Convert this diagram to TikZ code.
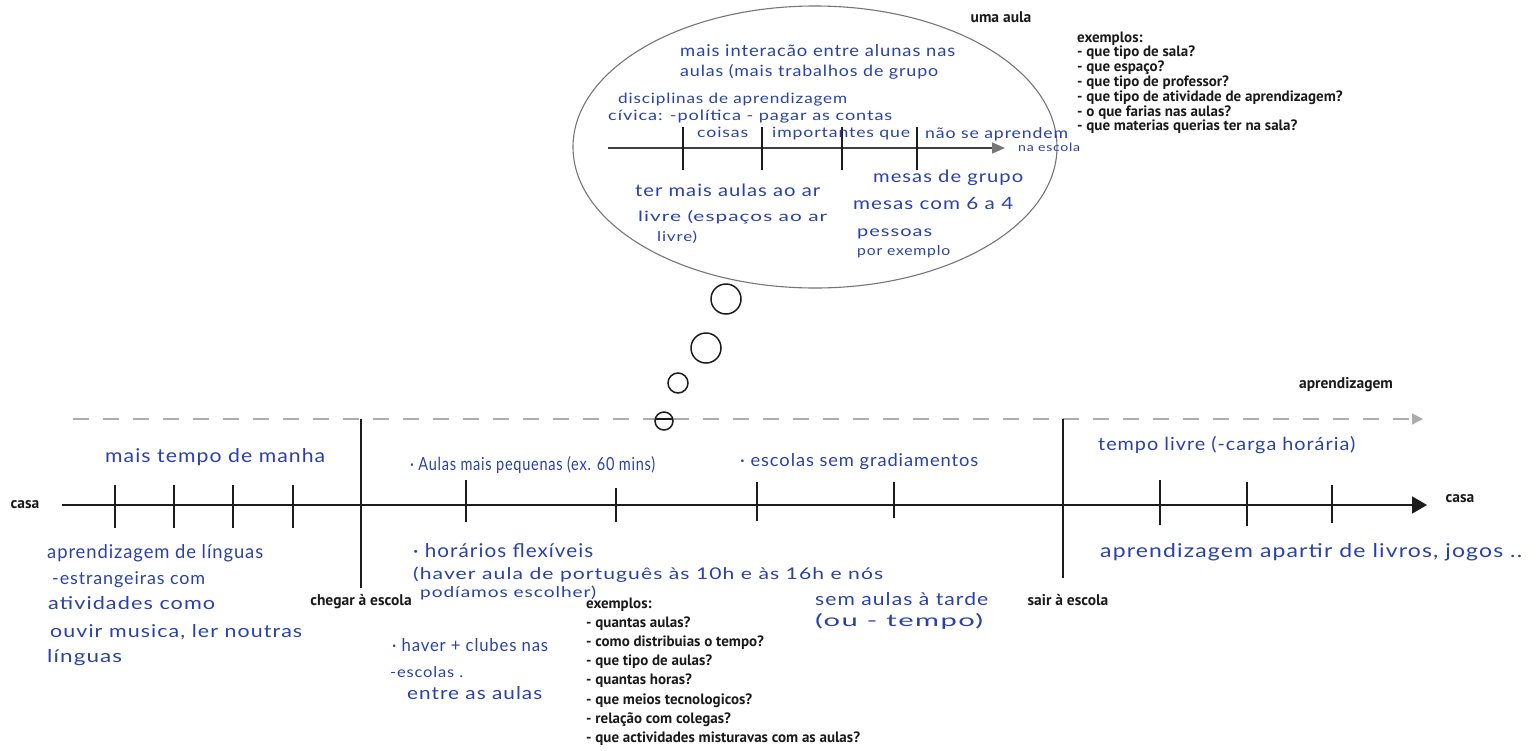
\documentclass[tikz,border=0pt]{standalone}
\usepackage{fontspec}
\setmainfont{PT Sans}
\newfontfamily\hwfont[LetterSpace=5]{Lato}
\usetikzlibrary{arrows.meta}

\definecolor{ink}{RGB}{42,66,168}
\definecolor{axisgray}{RGB}{28,28,28}
\definecolor{dashgray}{RGB}{172,172,172}
\definecolor{bubblegray}{RGB}{118,118,118}
\definecolor{printed}{RGB}{26,26,26}

% handwritten note: #1 = width, #2 = ascender height (pt)
\newcommand\hwnote[3]{\resizebox{#1pt}{#2pt}{\hwfont\vphantom{Alg}#3}}

\tikzset{
  hand/.style={anchor=west, inner sep=0pt, text=ink},
  lbl/.style={font=\bfseries\fontsize{15.5}{18}\selectfont, text=printed, inner sep=0pt},
  listline/.style={font=\bfseries\fontsize{15}{18}\selectfont, text=printed, inner sep=0pt, anchor=base west},
  axisline/.style={draw=axisgray, line width=1.8pt},
  tickmark/.style={draw=axisgray, line width=1.7pt},
  bubbleline/.style={draw=bubblegray, line width=1.1pt},
}

\begin{document}
\begin{tikzpicture}[x=1pt,y=-1pt]
\useasboundingbox (0,0) rectangle (1537,750);
\fill[white] (0,0) rectangle (1537,750);

% ---------- learning arrow (dashed) ----------
\coordinate (learnL) at (73,419);
\coordinate (learnR) at (1423,419);
\draw[draw=dashgray, line width=1.3pt, dash pattern=on 16pt off 14pt,
      -{Triangle[length=11pt,width=11pt,color=dashgray]}] (learnL) -- (learnR);
\node[lbl] (learn) at (1346,385) {aprendizagem};

% ---------- day timeline ----------
\coordinate (homeL) at (62,505);
\coordinate (homeR) at (1427,505);
\draw[axisline, -{Triangle[length=15pt,width=17pt]}] (homeL) -- (homeR);
\node[lbl] (casaL) at (25,505) {casa};
\node[lbl] (casaR) at (1460,499) {casa};

% arriving / leaving school
\coordinate (arriveT) at (361,419);
\coordinate (arriveB) at (361,588);
\coordinate (leaveT) at (1063,419);
\coordinate (leaveB) at (1063,578);
\draw[tickmark] (arriveT) -- (arriveB);
\draw[tickmark] (leaveT) -- (leaveB);
\node[lbl] (arrive) at (361,602) {chegar à escola};
\node[lbl] (leave) at (1068,600) {sair à escola};

% small ticks along the day
\foreach \x/\a/\b in {115/485/528, 174/485/528, 233/485/528, 293/485/528,
                      466/480/522, 616/488/522, 757/482/521, 894/482/518,
                      1160/480/525, 1247/482/526, 1332/485/523}
  \draw[tickmark] (\x,\a) -- (\x,\b);

% ---------- thought bubble ----------
\draw[bubbleline] (815,147) ellipse [x radius=242pt, y radius=141pt];
\draw[draw=axisgray, line width=1.5pt] (726,299) circle [radius=15pt];
\draw[draw=axisgray, line width=1.5pt] (706,348) circle [radius=15pt];
\draw[draw=axisgray, line width=1.5pt] (678,383) circle [radius=10pt];
\draw[draw=axisgray, line width=1.5pt] (664,421) circle [radius=9pt];
\draw[draw=axisgray, line width=1.3pt] (656,419) -- (672,419);
\node[lbl] (lesson) at (1001,17) {uma aula};

% lesson timeline inside the bubble
\coordinate (lessonL) at (608,148);
\coordinate (lessonR) at (1005,148);
\draw[draw=axisgray!85, line width=1.4pt,
      -{Triangle[length=13pt,width=11pt,color=bubblegray]}] (lessonL) -- (lessonR);
\foreach \x in {683,762,842,917}
  \draw[draw=axisgray, line width=1.6pt] (\x,127) -- (\x,170);

% ---------- printed prompts ----------
\foreach \t [count=\i] in {exemplos:, - que tipo de sala?, - que espaço?,
    - que tipo de professor?, - que tipo de atividade de aprendizagem?,
    - o que farias nas aulas?, - que materias querias ter na sala?}
  \node[listline] (lessonq\i) at (1077,{42+(\i-1)*14.8}) {\t};

\foreach \t [count=\i] in {exemplos:, - quantas aulas?, - como distribuias o tempo?,
    - que tipo de aulas?, - quantas horas?, - que meios tecnologicos?,
    - relação com colegas?, - que actividades misturavas com as aulas?}
  \node[listline] (dayq\i) at (586,{608+(\i-1)*19.2}) {\t};

% ---------- handwritten notes: morning ----------
\node[hand] (m1) at (105,457) {\hwnote{220}{14}{mais tempo de manha}};
\node[hand] (m2) at (47,553)  {\hwnote{216}{14}{aprendizagem de línguas}};
\node[hand] (m3) at (52,580)  {\hwnote{153}{13}{-estrangeiras com}};
\node[hand] (m4) at (48,605)  {\hwnote{167}{13}{atividades como}};
\node[hand] (m5) at (50,633)  {\hwnote{252}{13}{ouvir musica, ler noutras}};
\node[hand] (m6) at (47,658)  {\hwnote{75}{13}{línguas}};

% ---------- handwritten notes: school day ----------
\node[hand] (s1) at (410,465) {\hwnote{245}{14}{· Aulas mais pequenas (ex. 60 mins)}};
\node[hand] (s2) at (413,552) {\hwnote{180}{14}{· horários flexíveis}};
\node[hand] (s3) at (413,575) {\hwnote{470}{12.5}{(haver aula de português às 10h e às 16h e nós}};
\node[hand] (s4) at (420,593) {\hwnote{176}{11.5}{podíamos escolher)}};
\node[hand] (s5) at (392,647) {\hwnote{156}{13}{· haver + clubes nas}};
\node[hand] (s6) at (390,673) {\hwnote{73}{11}{-escolas .}};
\node[hand] (s7) at (407,695) {\hwnote{135}{13}{entre as aulas}};
\node[hand] (s8) at (740,462) {\hwnote{238}{13}{· escolas sem gradiamentos}};
\node[hand] (s9) at (815,601) {\hwnote{173}{13}{sem aulas à tarde}};
\node[hand] (s10) at (815,622) {\hwnote{168}{13}{(ou - tempo)}};

% ---------- handwritten notes: after school ----------
\node[hand] (a1) at (1098,445) {\hwnote{257}{14}{tempo livre (-carga horária)}};
\node[hand] (a2) at (1100,552) {\hwnote{422}{14}{aprendizagem apartir de livros, jogos ..}};

% ---------- handwritten notes: one lesson ----------
\node[hand] (b1) at (680,52)   {\hwnote{275}{12}{mais interacão entre alunas nas}};
\node[hand] (b2) at (680,72)   {\hwnote{258}{12}{aulas (mais trabalhos de grupo}};
\node[hand] (b3) at (618,100)  {\hwnote{229}{10.5}{disciplinas de aprendizagem}};
\node[hand] (b4) at (608,117)  {\hwnote{284}{10.5}{cívica: -política - pagar as contas}};
\node[hand] (b5) at (697,134)  {\hwnote{51}{10.5}{coisas}};
\node[hand] (b6) at (772,134)  {\hwnote{138}{10.5}{importantes que}};
\node[hand] (b7) at (925,134)  {\hwnote{143}{11}{não se aprendem}};
\node[hand] (b8) at (1018,148) {\hwnote{62}{8.5}{na escola}};
\node[hand] (b9) at (635,192)  {\hwnote{185}{12.5}{ter mais aulas ao ar}};
\node[hand] (b10) at (638,217) {\hwnote{189}{11}{livre (espaços ao ar}};
\node[hand] (b11) at (657,237) {\hwnote{40}{10.5}{livre)}};
\node[hand] (b12) at (873,178) {\hwnote{150}{12.5}{mesas de grupo}};
\node[hand] (b13) at (853,205) {\hwnote{160}{12.5}{mesas com 6 a 4}};
\node[hand] (b14) at (857,232) {\hwnote{75}{11}{pessoas}};
\node[hand] (b15) at (857,252) {\hwnote{93}{10}{por exemplo}};
\end{tikzpicture}
\end{document}
